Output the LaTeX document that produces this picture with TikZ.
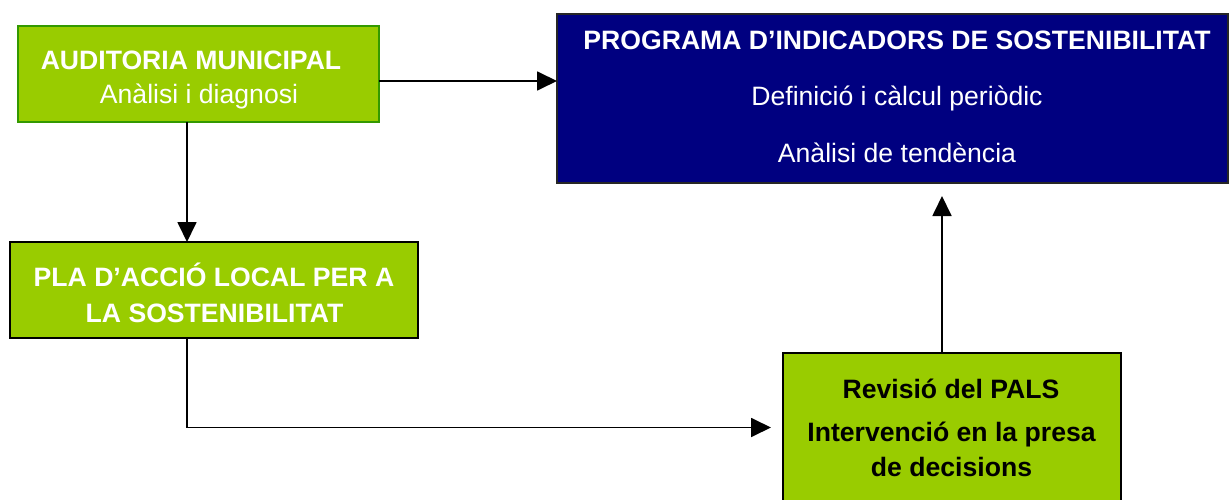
\documentclass[tikz,border=0pt]{standalone}
\usepackage{fontspec}
\setmainfont{Liberation Sans}
\usetikzlibrary{arrows.meta,calc}
\definecolor{boxgreen}{RGB}{153,204,0}
\definecolor{edgegreen}{RGB}{51,153,0}
\definecolor{navyblue}{RGB}{0,0,128}
\begin{document}
\begin{tikzpicture}[x=1pt,y=-1pt,
  box/.style={draw, line width=2pt, inner sep=0pt, outer sep=0pt},
  txt/.style={anchor=base, inner sep=0pt, font=\fontsize{26.6}{32}\selectfont},
  bold/.style={anchor=base, inner sep=0pt, font=\fontsize{26.6}{32}\selectfont\bfseries},
  arr/.style={line width=1.8pt, -{Triangle[length=20pt,width=19pt]}}]
\useasboundingbox (0,0) rectangle (1229,500);
% boxes
\node[box, line width=1.5pt, draw=edgegreen, fill=boxgreen, minimum width=361pt, minimum height=96pt] (aud) at (198.5,74) {};
\node[box, draw=black!85, fill=navyblue, minimum width=671pt, minimum height=169pt] (prog) at (892.5,98.5) {};
\node[box, draw=black, fill=boxgreen, minimum width=408pt, minimum height=95.5pt] (pla) at (214,289.75) {};
\node[box, draw=black, fill=boxgreen, minimum width=338pt, minimum height=149pt] (rev) at (952,427.5) {};
% texts
\node[bold, white] (aud1) at (191,70) {AUDITORIA MUNICIPAL};
\node[txt, white] (aud2) at (199,104) {Anàlisi i diagnosi};
\node[bold, white] (prog1) at (897,50) {PROGRAMA D’INDICADORS DE SOSTENIBILITAT};
\node[txt, white] (prog2) at (897,106) {Definició i càlcul periòdic};
\node[txt, white] (prog3) at (897,162) {Anàlisi de tendència};
\node[bold, white] (pla1) at (214,286) {PLA D’ACCIÓ LOCAL PER A};
\node[bold, white] (pla2) at (214.5,322) {LA SOSTENIBILITAT};
\node[bold] (rev1) at (951,398) {Revisió del PALS};
\node[bold] (rev2) at (951.5,441) {Intervenció en la presa};
\node[bold] (rev3) at (951.5,476) {de decisions};
% connectors
\draw[arr] ([yshift=-7pt]aud.east) -- ([yshift=-7pt]aud.east -| prog.west);
\draw[arr] ([xshift=-11.5pt]aud.south) -- ([xshift=-11.5pt]aud.south |- pla.north);
\draw[arr, shorten >=13pt] ([xshift=-10pt]rev.north) -- ([xshift=-10pt]rev.north |- prog.south);
\draw[arr, shorten >=12pt] ([xshift=-27pt]pla.south) |- (rev.west);
\end{tikzpicture}
\end{document}
